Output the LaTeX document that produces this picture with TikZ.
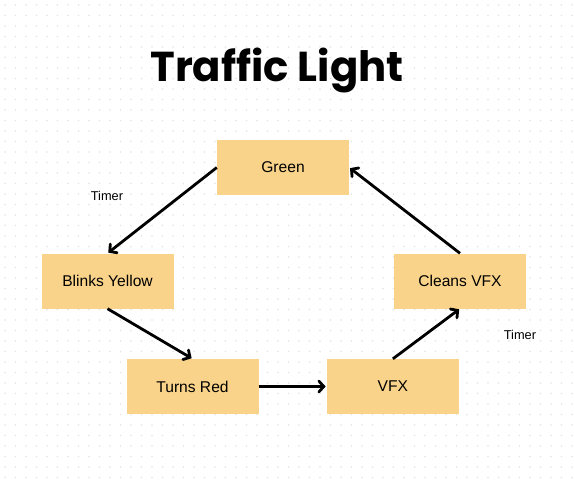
\documentclass[tikz,border=0pt]{standalone}
\usepackage{fontspec}
\setmainfont{Liberation Sans}
\newfontfamily\titlefont{Poppins}
\usetikzlibrary{arrows.meta,positioning}
\definecolor{boxfill}{RGB}{250,211,138}
\definecolor{dotgray}{RGB}{228,228,228}
\tikzset{
  lightstate/.style = {fill=boxfill, minimum width=132pt, minimum height=55pt, inner sep=0pt, font=\fontsize{15.6}{18}\selectfont},
  trans/.style = {-{Straight Barb[length=5pt,width=11pt,line cap=round]}, line width=2.8pt, shorten >=1pt},
  timerlabel/.style = {font=\fontsize{12.8}{15}\selectfont}
  }
\begin{document}
\begin{tikzpicture}[x=1pt,y=-1pt]
\useasboundingbox (0,0) rectangle (574,482);
\fill[white] (0,0) rectangle (574,482);
% dotted background
\foreach \i in {0,...,54}{
  \foreach \j in {0,...,45}{
    \fill[dotgray] (5+10.5*\i,5+10.5*\j) circle (0.9pt);
  }
}

\node[font=\titlefont\bfseries\fontsize{41.8}{48}\selectfont] (title) at (277,71) {Traffic Light};

\node[lightstate] (green) at (283,167.5) {Green};
\node[lightstate] (yellow) at (107.5,281) {Blinks Yellow};
\node[lightstate] (red) at (192.5,386.5) {Turns Red};
\node[lightstate,right=68pt of red] (vfx) {VFX};
\node[lightstate] (cleans) at (460,281) {Cleans VFX};

\node[timerlabel] (timer1) at (107,196) {Timer};
\node[timerlabel] (timer2) at (520,335) {Timer};

\draw[trans] (green.west) -- (yellow.north);
\draw[trans] (yellow.south) -- (red.north);
\draw[trans] (red.east) -- (vfx.west);
\draw[trans] (vfx.north) -- (cleans.south);
\draw[trans] (cleans.north) -- (green.east);
\end{tikzpicture}
\end{document}
